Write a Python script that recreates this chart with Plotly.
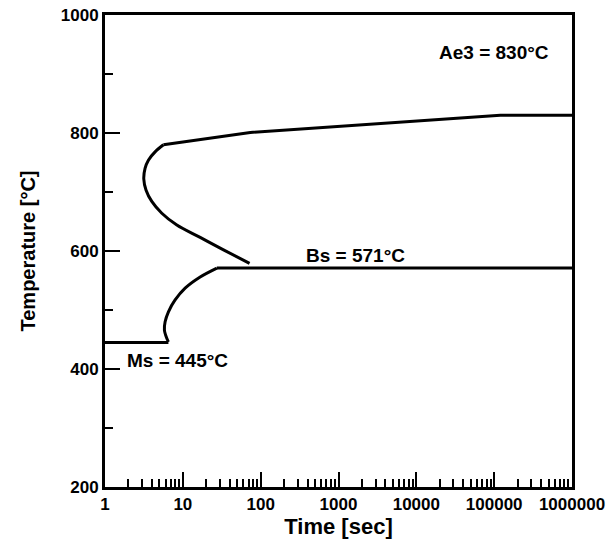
import math
import plotly.graph_objects as go

# Ferrite/pearlite start curve (nose part), time [s] / temperature [°C]
nose_t = [72, 33.3, 16.7, 8.37, 5.37, 3.99, 3.37, 3.15, 3.27, 3.61, 4.40, 5.63]
nose_T = [579, 602, 623, 644, 664, 684, 703, 722, 740, 754, 768, 780]
# Upper straight branch up to Ae3
upper_t = [5.63, 73.5, 120000, 1000000]
upper_T = [780, 801, 830, 830]
# Bainite start curve
bain_t = [6.53, 6.22, 5.80, 5.92, 6.53, 7.96, 10.7, 16.7, 27.4]
bain_T = [446, 452, 466, 480, 497, 517, 537, 556, 571]
# Bs horizontal
bs_t = [27.4, 1000000]
bs_T = [571, 571]
# Ms horizontal
ms_t = [1, 6.53]
ms_T = [445, 445]

x_ticks = [1, 10, 100, 1000, 10000, 100000, 1000000]
x_ticktext = ["1", "10", "100", "1000", "10000", "100000", "1000000"]
x_minor = [m * 10 ** d for d in range(6) for m in range(2, 10)]

labels = ["Ae3 = 830°C", "Bs = 571°C", "Ms = 445°C"]
label_t = [100000, 1650, 8.5]
label_T = [936, 592, 414]

FONT = "Liberation Sans, Arial, Helvetica, sans-serif"
line = dict(color="black", width=3)

fig = go.Figure()
fig.add_trace(go.Scatter(x=nose_t, y=nose_T, mode="lines", line=dict(color="black", width=3, shape="spline", smoothing=1.0)))
fig.add_trace(go.Scatter(x=upper_t, y=upper_T, mode="lines", line=line))
fig.add_trace(go.Scatter(x=bain_t, y=bain_T, mode="lines", line=dict(color="black", width=3, shape="spline", smoothing=0.8)))
fig.add_trace(go.Scatter(x=bs_t, y=bs_T, mode="lines", line=line))
fig.add_trace(go.Scatter(x=ms_t, y=ms_T, mode="lines", line=line))

for txt, t, T in zip(labels, label_t, label_T):
    fig.add_annotation(x=math.log10(t), y=T, text="<b>%s</b>" % txt, showarrow=False,
                       font=dict(family=FONT, size=19, color="black"),
                       xanchor="center", yanchor="middle")

fig.update_layout(
    width=616, height=543,
    margin=dict(l=105, r=44, t=15, b=56),
    plot_bgcolor="white", paper_bgcolor="white",
    showlegend=False,
    font=dict(family=FONT, color="black"),
)
fig.update_xaxes(
    type="log", range=[0, 6], automargin=False,
    tickvals=x_ticks, ticktext=["<b>%s</b>" % s for s in x_ticktext],
    ticks="inside", ticklen=15, tickwidth=2, tickcolor="black",
    minor=dict(tickvals=x_minor, ticks="inside", ticklen=8, tickwidth=2, tickcolor="black", showgrid=False),
    showline=True, linewidth=3, linecolor="black", mirror=True,
    showgrid=False, zeroline=False,
    tickfont=dict(family=FONT, size=17, color="black"),
    title=dict(text="<b>Time [sec]</b>", font=dict(family=FONT, size=22, color="black"), standoff=2),
)
fig.update_yaxes(
    range=[200, 1000], dtick=200, tick0=200, automargin=False,
    tickprefix="<b>", ticksuffix="</b>",
    ticks="inside", ticklen=15, tickwidth=2, tickcolor="black",
    minor=dict(dtick=100, ticks="inside", ticklen=8, tickwidth=2, tickcolor="black", showgrid=False),
    showline=True, linewidth=3, linecolor="black", mirror=True,
    showgrid=False, zeroline=False,
    tickfont=dict(family=FONT, size=17, color="black"),
    title=dict(text="<b>Temperature [°C]</b>", font=dict(family=FONT, size=20, color="black"), standoff=20),
)

fig.write_html("out.html", config={"displayModeBar": False},
               post_script="document.body.style.margin='0';document.body.style.overflow='hidden';")
